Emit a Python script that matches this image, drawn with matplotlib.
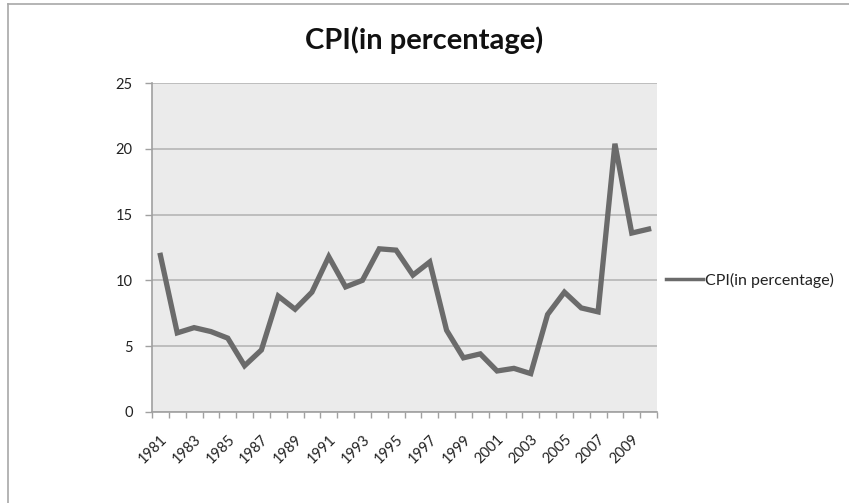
import matplotlib
matplotlib.use("Agg")
import matplotlib.pyplot as plt
from matplotlib.lines import Line2D

years = list(range(1981, 2011))
cpi = [11.9, 6.0, 6.4, 6.1, 5.6, 3.5, 4.7, 8.8, 7.8, 9.1,
       11.8, 9.5, 10.0, 12.4, 12.3, 10.4, 11.4, 6.2, 4.1, 4.4,
       3.1, 3.3, 2.9, 7.4, 9.1, 7.9, 7.6, 20.4, 13.6, 13.9]
y_ticks = [0, 5, 10, 15, 20, 25]
series_name = "CPI(in percentage)"
title = "CPI(in percentage)"

plt.rcParams['font.family'] = ['Lato', 'DejaVu Sans']

W, H = 849, 503
fig = plt.figure(figsize=(W / 100, H / 100), dpi=100)
ax = fig.add_axes([152 / W, 1 - 411.7 / H, (657 - 152) / W, (411.7 - 83.3) / H])
ax.set_facecolor('#ebebeb')

x = list(range(len(years)))
ax.plot(x, cpi, color='#6b6b6b', lw=3.8, solid_joinstyle='miter', label=series_name, zorder=3)

ax.set_xlim(-0.5, len(years) - 0.5)
ax.set_ylim(0, 25)
ax.set_yticks(y_ticks)
ax.set_yticklabels([str(v) for v in y_ticks], fontsize=10.5, color='#222222')
ax.grid(axis='y', color='#bdbdbd', lw=1.4, zorder=1)
ax.set_axisbelow(True)

# category boundaries as major ticks, labels at every other category
ax.set_xticks([i - 0.5 for i in range(len(years) + 1)])
ax.set_xticklabels([])
ax.set_xticks(x[::2], minor=True)
ax.set_xticklabels([str(y) for y in years[::2]], minor=True, rotation=45,
                   ha='right', va='top', rotation_mode='anchor', fontsize=10.5, color='#222222')
ax.tick_params(axis='x', which='major', length=4, color='#a0a0a0', width=1)
ax.tick_params(axis='x', which='minor', length=0, pad=15)
ax.tick_params(axis='y', length=5, color='#a0a0a0', width=1, pad=9)

for s in ['top', 'right']:
    ax.spines[s].set_visible(False)
for s in ['left', 'bottom']:
    ax.spines[s].set_color('#a0a0a0')
    ax.spines[s].set_linewidth(1.2)

fig.text(424 / W, 1 - 40 / H, title, ha='center', va='center', fontsize=21,
         fontweight='bold', color='#111111')

leg = fig.legend(handles=[Line2D([0], [0], color='#6b6b6b', lw=2.5)], labels=[series_name],
                 loc='center left', bbox_to_anchor=(666 / W, 1 - 280 / H),
                 frameon=False, fontsize=11.5, handlelength=2.3, handletextpad=0.15,
                 borderaxespad=0, borderpad=0)
for t in leg.get_texts():
    t.set_color('#222222')

# outer chart border (left and top)
fig.add_artist(Line2D([8 / W, 8 / W], [0, 1 - 4 / H], transform=fig.transFigure, color='#a8a8a8', lw=1.2))
fig.add_artist(Line2D([8 / W, 1], [1 - 4 / H, 1 - 4 / H], transform=fig.transFigure, color='#a8a8a8', lw=1.2))

fig.savefig('out.png', dpi=100)
